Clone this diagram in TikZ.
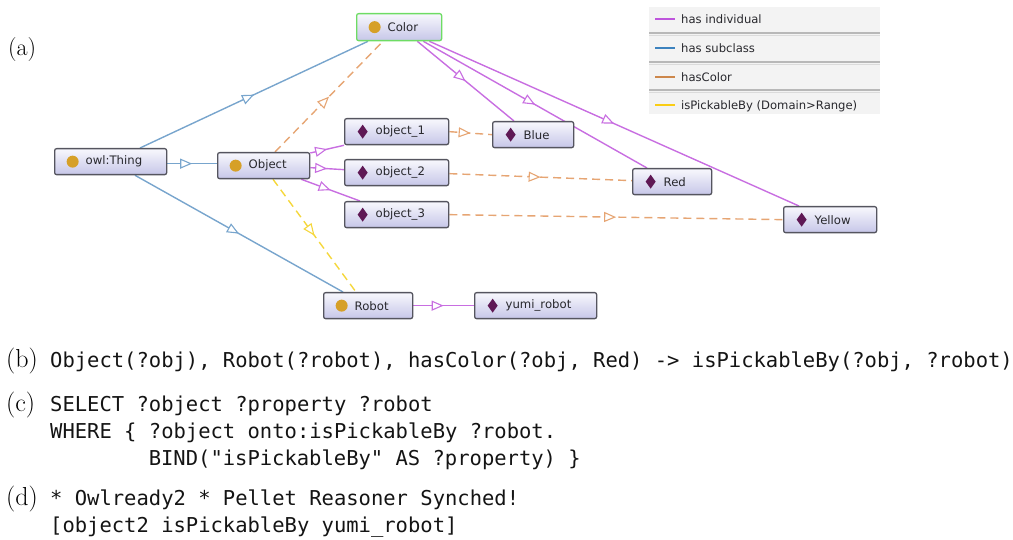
\documentclass[tikz,border=0pt]{standalone}
\usepackage{fontspec}
\newfontfamily\uifont{DejaVu Sans}
\newfontfamily\codefont[Ligatures=TeXOff]{DejaVu Sans Mono}
\usetikzlibrary{arrows.meta,decorations.markings,calc,backgrounds}

% node and edge colours
\definecolor{boxtop}{RGB}{248,248,253}
\definecolor{boxbot}{RGB}{198,198,232}
\definecolor{boxline}{RGB}{85,85,95}
\definecolor{selgreen}{RGB}{110,220,100}
\definecolor{clsdot}{RGB}{214,160,40}
\definecolor{inddot}{RGB}{95,25,85}
\definecolor{uitext}{RGB}{40,40,45}
\definecolor{indiv}{RGB}{200,110,225}
\definecolor{subcl}{RGB}{120,165,205}
\definecolor{hascol}{RGB}{230,165,115}
\definecolor{pick}{RGB}{245,215,60}
\definecolor{indivS}{RGB}{190,85,220}
\definecolor{subclS}{RGB}{60,130,190}
\definecolor{hascolS}{RGB}{205,135,75}
\definecolor{pickS}{RGB}{250,205,20}
\definecolor{legbg}{RGB}{243,243,243}
\definecolor{codetext}{RGB}{20,20,20}

\tikzset{
  box/.style={draw=boxline, line width=1.3pt, rounded corners=2pt,
    top color=boxtop, bottom color=boxbot, minimum height=26pt,
    inner xsep=0pt, inner ysep=0pt, align=left, text=uitext,
    font=\uifont\fontsize{11.7}{13}\selectfont, anchor=north west},
  cls/.style={box, path picture={\fill[clsdot]
    ([xshift=18pt]path picture bounding box.west) circle[radius=6pt];}},
  ind/.style={box, path picture={\fill[inddot, sharp corners]
    ([xshift=18pt]path picture bounding box.west) ++(0pt,7pt)
    -- ++(5pt,-7pt) -- ++(-5pt,-7pt) -- ++(-5pt,7pt) -- cycle;}},
  midarrow/.style={postaction={decorate}, decoration={markings,
    mark=at position 0.5 with {\arrow{Triangle[length=12pt,width=10pt,fill=white,line width=1.1pt]}}}},
  sub/.style={draw=subcl, line width=1.4pt, midarrow},
  hasind/.style={draw=indiv, line width=1.4pt, midarrow},
  hcol/.style={draw=hascol, line width=1.4pt, dash pattern=on 8pt off 5pt, midarrow},
  pk/.style={draw=pick, line width=1.4pt, dash pattern=on 8pt off 5pt, midarrow},
  legtext/.style={anchor=base west, inner sep=0pt, text=uitext,
    font=\uifont\fontsize{11.6}{13}\selectfont},
  code/.style={anchor=base west, inner sep=0pt, text=codetext,
    font=\codefont\fontsize{20.5}{27}\selectfont},
  partlab/.style={anchor=base west, inner sep=0pt, font=\fontsize{26}{30}\selectfont},
}

\begin{document}
\begin{tikzpicture}[x=1pt, y=-1pt]
\useasboundingbox (0,0) rectangle (1013,540);

% ---- ontology graph ----
\node[cls, text width=112pt] (thing) at (54,148) {\hspace*{31pt}owl:Thing};
\node[cls, text width=92pt] (object) at (217,152) {\hspace*{31pt}Object};
\node[cls, text width=85pt, draw=selgreen, minimum height=27pt] (color) at (356,13) {\hspace*{31pt}Color};
\node[cls, text width=89pt] (robot) at (323,292) {\hspace*{31pt}Robot};
\node[ind, text width=104pt] (o1) at (344,118) {\hspace*{31pt}object\_1};
\node[ind, text width=104pt] (o2) at (344,159) {\hspace*{31pt}object\_2};
\node[ind, text width=104pt] (o3) at (344,201) {\hspace*{31pt}object\_3};
\node[ind, text width=81pt] (blue) at (492,121) {\hspace*{31pt}Blue};
\node[ind, text width=79pt] (red) at (632,168) {\hspace*{31pt}Red};
\node[ind, text width=93pt] (yellow) at (783,206) {\hspace*{31pt}Yellow};
\node[ind, text width=122pt] (yumi) at (474,292) {\hspace*{31pt}yumi\_robot};

\begin{pgfonlayer}{background}
  % subclass links
  \draw[sub] ($(thing.north west)+(86,0)$) -- ($(color.south west)+(12,0)$);
  \draw[sub] ($(thing.east)+(0,2)$) -- ($(object.west)+(0,-2)$);
  \draw[sub] ($(thing.south west)+(81,0)$) -- ($(robot.north west)+(20,0)$);
  % hasColor domain/range and isPickableBy
  \draw[hcol] ($(object.north west)+(58,0)$) -- ($(color.south west)+(27,0)$);
  \draw[pk] ($(object.south west)+(56,0)$) -- ($(robot.north west)+(33,0)$);
  % individuals of Object
  \draw[hasind] ($(object.north east)+(0,1)$) -- (o1.south west);
  \draw[hasind] ($(object.east)+(0,2)$) -- ($(o2.west)+(0,-3)$);
  \draw[hasind] ($(object.south east)+(-9,0)$) -- ($(o3.north west)+(16,0)$);
  % individuals of Color
  \draw[hasind] ($(color.south east)+(-25,0)$) -- ($(blue.north west)+(22,0)$);
  \draw[hasind] ($(color.south east)+(-19,0)$) -- ($(red.north west)+(15,0)$);
  \draw[hasind] ($(color.south east)+(-13,0)$) -- ($(yellow.north west)+(16,0)$);
  % hasColor assertions
  \draw[hcol] (o1.east) -- (blue.west);
  \draw[hcol] ($(o2.east)+(0,1)$) -- ($(red.west)+(0,-1)$);
  \draw[hcol] (o3.east) -- (yellow.west);
  % individual of Robot
  \draw[hasind] (robot.east) -- (yumi.west);
\end{pgfonlayer}

% ---- legend ----
\fill[legbg] (649,7) rectangle (880,114);
\foreach \yy in {33,62,90} {
  \draw[black!28, line width=2pt] (649,\yy) -- (880,\yy);
  \draw[black!14, line width=1pt] (649,\yy+2.5) -- (880,\yy+2.5);
}
\draw[indivS, line width=2.5pt] (655,19) -- (675,19);
\draw[subclS, line width=2.5pt] (655,48) -- (675,48);
\draw[hascolS, line width=2.5pt] (655,77) -- (675,77);
\draw[pickS, line width=2.5pt] (655,105) -- (675,105);
\node[legtext] (lg1) at (681,23.5) {has individual};
\node[legtext] (lg2) at (681,52.5) {has subclass};
\node[legtext] (lg3) at (681,81.5) {hasColor};
\node[legtext] (lg4) at (681,109.5) {isPickableBy (Domain>Range)};

% ---- part labels ----
\node[partlab, font=\fontsize{24}{28}\selectfont] (pa) at (8,56) {(a)};
\node[partlab] (pb) at (6,367) {(b)};
\node[partlab] (pc) at (6,411) {(c)};
\node[partlab] (pd) at (6,505) {(d)};

% ---- SWRL rule, SPARQL query, reasoner output ----
\node[code] (rule) at (50,367) {Object(?obj), Robot(?robot), hasColor(?obj, Red) -> isPickableBy(?obj, ?robot)};
\node[code] (q1) at (50,411) {SELECT ?object ?property ?robot};
\node[code] (q2) at (50,438) {WHERE \{ ?object onto:isPickableBy ?robot.};
\node[code] (q3) at (148.6,465) {BIND("isPickableBy" AS ?property) \}};
\node[code] (r1) at (50,505) {* Owlready2 * Pellet Reasoner Synched!};
\node[code] (r2) at (50,532) {[object2 isPickableBy yumi\_robot]};
\end{tikzpicture}
\end{document}
